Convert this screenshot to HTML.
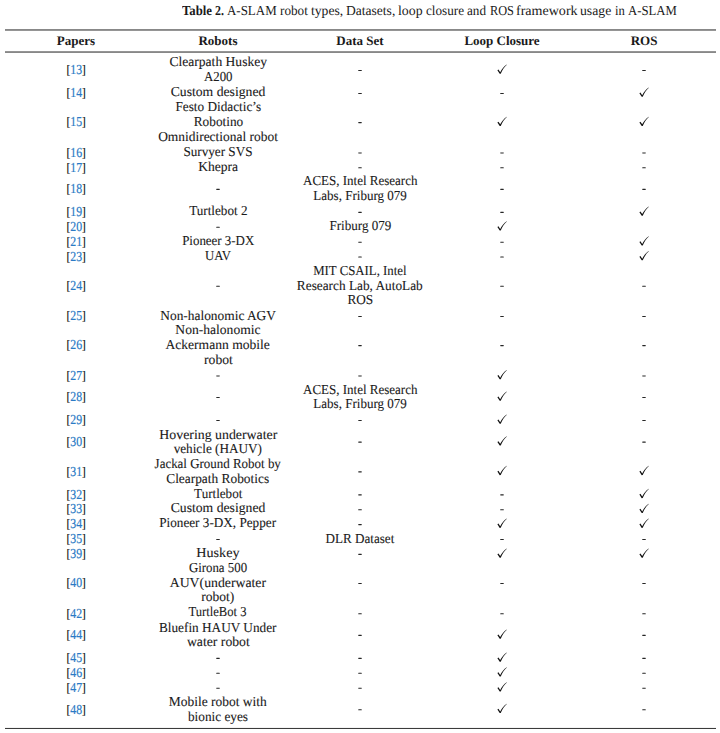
<!DOCTYPE html>
<html><head><meta charset="utf-8"><title>Table 2</title>
<style>
html,body{margin:0;padding:0;background:#fff;}
body{width:720px;height:733px;position:relative;overflow:hidden;font-family:"Liberation Serif",serif;color:#1a1a1a;font-size:13.7px;line-height:15px;text-rendering:geometricPrecision;}
.cw{position:absolute;top:2.5px;white-space:nowrap;font-size:13.7px;transform-origin:0 0;}
.t{position:absolute;width:142px;height:15px;text-align:center;white-space:nowrap;-webkit-text-stroke:0.1px #1a1a1a;}
.l{display:inline-block;}
.h{font-weight:bold;font-size:13.0px;transform:scaleX(1.0);-webkit-text-stroke:0;}
.p{display:inline-block;font-size:13.7px;transform:scaleX(0.865);color:#111;-webkit-text-stroke:0.2px #111;}
.n{color:#2a7ac5;-webkit-text-stroke:0.2px #2a7ac5;position:relative;top:0px;}
.b{font-size:13.0px;position:relative;top:0px;}
svg.ov{position:absolute;left:0;top:0;}
</style></head><body>

<span class="cw" style="left:182.20px;transform:scaleX(0.9313);font-weight:bold">Table</span>
<span class="cw" style="left:215.10px;transform:scaleX(0.8700);font-weight:bold">2.</span>
<span class="cw" style="left:227.05px;transform:scaleX(0.9461)">A-SLAM</span>
<span class="cw" style="left:279.54px;transform:scaleX(0.9643)">robot</span>
<span class="cw" style="left:310.60px;transform:scaleX(0.9968)">types,</span>
<span class="cw" style="left:346.01px;transform:scaleX(0.9896)">Datasets,</span>
<span class="cw" style="left:397.74px;transform:scaleX(1.0109)">loop</span>
<span class="cw" style="left:425.50px;transform:scaleX(0.9615)">closure</span>
<span class="cw" style="left:467.00px;transform:scaleX(0.9625)">and</span>
<span class="cw" style="left:490.35px;transform:scaleX(0.9000)">ROS</span>
<span class="cw" style="left:515.97px;transform:scaleX(1.0254)">framework</span>
<span class="cw" style="left:580.25px;transform:scaleX(1.0017)">usage</span>
<span class="cw" style="left:615.28px;transform:scaleX(0.9222)">in</span>
<span class="cw" style="left:627.82px;transform:scaleX(0.9314)">A-SLAM</span>
<div class="t h" style="left:5.0px;top:33px">Papers</div>
<div class="t h" style="left:147.0px;top:33px">Robots</div>
<div class="t h" style="left:289.0px;top:33px">Data Set</div>
<div class="t h" style="left:431.0px;top:33px">Loop Closure</div>
<div class="t h" style="left:573.0px;top:33px">ROS</div>
<div class="t " style="left:5.0px;top:62px"><span class="p"><span class="b">[</span><span class="n">13</span><span class="b">]</span></span></div>
<div class="t " style="left:147.0px;top:54px"><span class="l" style="transform:scaleX(0.9918)">Clearpath Huskey</span></div>
<div class="t " style="left:147.0px;top:69px"><span class="l" style="transform:scaleX(0.9379)">A200</span></div>
<div class="t " style="left:5.0px;top:85px"><span class="p"><span class="b">[</span><span class="n">14</span><span class="b">]</span></span></div>
<div class="t " style="left:147.0px;top:84px"><span class="l" style="transform:scaleX(1.0)">Custom designed</span></div>
<div class="t " style="left:5.0px;top:114px"><span class="p"><span class="b">[</span><span class="n">15</span><span class="b">]</span></span></div>
<div class="t " style="left:147.0px;top:99px"><span class="l" style="transform:scaleX(0.9678)">Festo Didactic’s</span></div>
<div class="t " style="left:147.0px;top:114px"><span class="l" style="transform:scaleX(0.97)">Robotino</span></div>
<div class="t " style="left:147.0px;top:129px"><span class="l" style="transform:scaleX(0.9811)">Omnidirectional robot</span></div>
<div class="t " style="left:5.0px;top:145px"><span class="p"><span class="b">[</span><span class="n">16</span><span class="b">]</span></span></div>
<div class="t " style="left:147.0px;top:144px"><span class="l" style="transform:scaleX(0.9614)">Survyer SVS</span></div>
<div class="t " style="left:5.0px;top:160px"><span class="p"><span class="b">[</span><span class="n">17</span><span class="b">]</span></span></div>
<div class="t " style="left:147.0px;top:159px"><span class="l" style="transform:scaleX(0.9923)">Khepra</span></div>
<div class="t " style="left:5.0px;top:181px"><span class="p"><span class="b">[</span><span class="n">18</span><span class="b">]</span></span></div>
<div class="t " style="left:289.0px;top:173px"><span class="l" style="transform:scaleX(0.9496)">ACES, Intel Research</span></div>
<div class="t " style="left:289.0px;top:188px"><span class="l" style="transform:scaleX(0.9526)">Labs, Friburg 079</span></div>
<div class="t " style="left:5.0px;top:204px"><span class="p"><span class="b">[</span><span class="n">19</span><span class="b">]</span></span></div>
<div class="t " style="left:147.0px;top:203px"><span class="l" style="transform:scaleX(0.96)">Turtlebot 2</span></div>
<div class="t " style="left:5.0px;top:219px"><span class="p"><span class="b">[</span><span class="n">20</span><span class="b">]</span></span></div>
<div class="t " style="left:289.0px;top:218px"><span class="l" style="transform:scaleX(0.9563)">Friburg 079</span></div>
<div class="t " style="left:5.0px;top:234px"><span class="p"><span class="b">[</span><span class="n">21</span><span class="b">]</span></span></div>
<div class="t " style="left:147.0px;top:233px"><span class="l" style="transform:scaleX(0.944)">Pioneer 3-DX</span></div>
<div class="t " style="left:5.0px;top:249px"><span class="p"><span class="b">[</span><span class="n">23</span><span class="b">]</span></span></div>
<div class="t " style="left:147.0px;top:248px"><span class="l" style="transform:scaleX(0.9296)">UAV</span></div>
<div class="t " style="left:5.0px;top:278px"><span class="p"><span class="b">[</span><span class="n">24</span><span class="b">]</span></span></div>
<div class="t " style="left:289.0px;top:263px"><span class="l" style="transform:scaleX(0.9367)">MIT CSAIL, Intel</span></div>
<div class="t " style="left:289.0px;top:278px"><span class="l" style="transform:scaleX(0.9711)">Research Lab, AutoLab</span></div>
<div class="t " style="left:289.0px;top:292px"><span class="l" style="transform:scaleX(0.968)">ROS</span></div>
<div class="t " style="left:5.0px;top:308px"><span class="p"><span class="b">[</span><span class="n">25</span><span class="b">]</span></span></div>
<div class="t " style="left:147.0px;top:308px"><span class="l" style="transform:scaleX(0.9786)">Non-halonomic AGV</span></div>
<div class="t " style="left:5.0px;top:337px"><span class="p"><span class="b">[</span><span class="n">26</span><span class="b">]</span></span></div>
<div class="t " style="left:147.0px;top:322px"><span class="l" style="transform:scaleX(0.9917)">Non-halonomic</span></div>
<div class="t " style="left:147.0px;top:337px"><span class="l" style="transform:scaleX(0.9913)">Ackermann mobile</span></div>
<div class="t " style="left:147.0px;top:352px"><span class="l" style="transform:scaleX(0.9964)">robot</span></div>
<div class="t " style="left:5.0px;top:368px"><span class="p"><span class="b">[</span><span class="n">27</span><span class="b">]</span></span></div>
<div class="t " style="left:5.0px;top:389px"><span class="p"><span class="b">[</span><span class="n">28</span><span class="b">]</span></span></div>
<div class="t " style="left:289.0px;top:382px"><span class="l" style="transform:scaleX(0.9496)">ACES, Intel Research</span></div>
<div class="t " style="left:289.0px;top:396px"><span class="l" style="transform:scaleX(0.9526)">Labs, Friburg 079</span></div>
<div class="t " style="left:5.0px;top:412px"><span class="p"><span class="b">[</span><span class="n">29</span><span class="b">]</span></span></div>
<div class="t " style="left:5.0px;top:434px"><span class="p"><span class="b">[</span><span class="n">30</span><span class="b">]</span></span></div>
<div class="t " style="left:147.0px;top:427px"><span class="l" style="transform:scaleX(1.0121)">Hovering underwater</span></div>
<div class="t " style="left:147.0px;top:441px"><span class="l" style="transform:scaleX(0.9644)">vehicle (HAUV)</span></div>
<div class="t " style="left:5.0px;top:464px"><span class="p"><span class="b">[</span><span class="n">31</span><span class="b">]</span></span></div>
<div class="t " style="left:147.0px;top:456px"><span class="l" style="transform:scaleX(0.9459)">Jackal Ground Robot by</span></div>
<div class="t " style="left:147.0px;top:471px"><span class="l" style="transform:scaleX(0.9771)">Clearpath Robotics</span></div>
<div class="t " style="left:5.0px;top:487px"><span class="p"><span class="b">[</span><span class="n">32</span><span class="b">]</span></span></div>
<div class="t " style="left:147.0px;top:486px"><span class="l" style="transform:scaleX(0.956)">Turtlebot</span></div>
<div class="t " style="left:5.0px;top:501px"><span class="p"><span class="b">[</span><span class="n">33</span><span class="b">]</span></span></div>
<div class="t " style="left:147.0px;top:500px"><span class="l" style="transform:scaleX(1.0)">Custom designed</span></div>
<div class="t " style="left:5.0px;top:516px"><span class="p"><span class="b">[</span><span class="n">34</span><span class="b">]</span></span></div>
<div class="t " style="left:147.0px;top:515px"><span class="l" style="transform:scaleX(0.9633)">Pioneer 3-DX, Pepper</span></div>
<div class="t " style="left:5.0px;top:531px"><span class="p"><span class="b">[</span><span class="n">35</span><span class="b">]</span></span></div>
<div class="t " style="left:289.0px;top:531px"><span class="l" style="transform:scaleX(0.9577)">DLR Dataset</span></div>
<div class="t " style="left:5.0px;top:546px"><span class="p"><span class="b">[</span><span class="n">39</span><span class="b">]</span></span></div>
<div class="t " style="left:147.0px;top:545px"><span class="l" style="transform:scaleX(1.0325)">Huskey</span></div>
<div class="t " style="left:5.0px;top:575px"><span class="p"><span class="b">[</span><span class="n">40</span><span class="b">]</span></span></div>
<div class="t " style="left:147.0px;top:560px"><span class="l" style="transform:scaleX(0.9387)">Girona 500</span></div>
<div class="t " style="left:147.0px;top:575px"><span class="l" style="transform:scaleX(1.0053)">AUV(underwater</span></div>
<div class="t " style="left:147.0px;top:589px"><span class="l" style="transform:scaleX(0.9875)">robot)</span></div>
<div class="t " style="left:5.0px;top:606px"><span class="p"><span class="b">[</span><span class="n">42</span><span class="b">]</span></span></div>
<div class="t " style="left:147.0px;top:604px"><span class="l" style="transform:scaleX(0.9206)">TurtleBot 3</span></div>
<div class="t " style="left:5.0px;top:627px"><span class="p"><span class="b">[</span><span class="n">44</span><span class="b">]</span></span></div>
<div class="t " style="left:147.0px;top:620px"><span class="l" style="transform:scaleX(0.9675)">Bluefin HAUV Under</span></div>
<div class="t " style="left:147.0px;top:634px"><span class="l" style="transform:scaleX(1.0016)">water robot</span></div>
<div class="t " style="left:5.0px;top:650px"><span class="p"><span class="b">[</span><span class="n">45</span><span class="b">]</span></span></div>
<div class="t " style="left:5.0px;top:665px"><span class="p"><span class="b">[</span><span class="n">46</span><span class="b">]</span></span></div>
<div class="t " style="left:5.0px;top:680px"><span class="p"><span class="b">[</span><span class="n">47</span><span class="b">]</span></span></div>
<div class="t " style="left:5.0px;top:702px"><span class="p"><span class="b">[</span><span class="n">48</span><span class="b">]</span></span></div>
<div class="t " style="left:147.0px;top:694px"><span class="l" style="transform:scaleX(0.9827)">Mobile robot with</span></div>
<div class="t " style="left:147.0px;top:709px"><span class="l" style="transform:scaleX(0.9689)">bionic eyes</span></div>
<svg class="ov" width="720" height="733" viewBox="0 0 720 733"><rect x="5" y="29.1" width="711" height="1.7" fill="#7c7c7c"/><rect x="5" y="51.2" width="711" height="1.7" fill="#7c7c7c"/><rect x="5" y="727.95" width="711" height="0.9" fill="#1a1a1a"/><rect x="358.20" y="69.95" width="3.6" height="1.1" rx="0.4" fill="#262626"/><path transform="translate(500.25 73.75)" d="M-2.85-3.5L-1.8-4.25L-0.05-1.55C1.45-4.5 3.65-7.4 6.5-9.25L6.65-9C4.2-7 2.1-3.9 0.5 0L-0.55 0.05Z" fill="#111"/><rect x="642.20" y="69.95" width="3.6" height="1.1" rx="0.4" fill="#262626"/><rect x="358.20" y="92.95" width="3.6" height="1.1" rx="0.4" fill="#262626"/><rect x="500.20" y="92.95" width="3.6" height="1.1" rx="0.4" fill="#262626"/><path transform="translate(642.25 96.75)" d="M-2.85-3.5L-1.8-4.25L-0.05-1.55C1.45-4.5 3.65-7.4 6.5-9.25L6.65-9C4.2-7 2.1-3.9 0.5 0L-0.55 0.05Z" fill="#111"/><rect x="358.20" y="122.12" width="3.6" height="1.1" rx="0.4" fill="#262626"/><path transform="translate(500.25 125.92)" d="M-2.85-3.5L-1.8-4.25L-0.05-1.55C1.45-4.5 3.65-7.4 6.5-9.25L6.65-9C4.2-7 2.1-3.9 0.5 0L-0.55 0.05Z" fill="#111"/><path transform="translate(642.25 125.92)" d="M-2.85-3.5L-1.8-4.25L-0.05-1.55C1.45-4.5 3.65-7.4 6.5-9.25L6.65-9C4.2-7 2.1-3.9 0.5 0L-0.55 0.05Z" fill="#111"/><rect x="358.20" y="152.39" width="3.6" height="1.1" rx="0.4" fill="#262626"/><rect x="500.20" y="152.39" width="3.6" height="1.1" rx="0.4" fill="#262626"/><rect x="642.20" y="152.39" width="3.6" height="1.1" rx="0.4" fill="#262626"/><rect x="358.20" y="167.27" width="3.6" height="1.1" rx="0.4" fill="#262626"/><rect x="500.20" y="167.27" width="3.6" height="1.1" rx="0.4" fill="#262626"/><rect x="642.20" y="167.27" width="3.6" height="1.1" rx="0.4" fill="#262626"/><rect x="216.20" y="188.87" width="3.6" height="1.1" rx="0.4" fill="#262626"/><rect x="500.20" y="188.87" width="3.6" height="1.1" rx="0.4" fill="#262626"/><rect x="642.20" y="188.87" width="3.6" height="1.1" rx="0.4" fill="#262626"/><rect x="358.20" y="211.87" width="3.6" height="1.1" rx="0.4" fill="#262626"/><rect x="500.20" y="211.87" width="3.6" height="1.1" rx="0.4" fill="#262626"/><path transform="translate(642.25 215.67)" d="M-2.85-3.5L-1.8-4.25L-0.05-1.55C1.45-4.5 3.65-7.4 6.5-9.25L6.65-9C4.2-7 2.1-3.9 0.5 0L-0.55 0.05Z" fill="#111"/><rect x="216.20" y="226.75" width="3.6" height="1.1" rx="0.4" fill="#262626"/><path transform="translate(500.25 230.55)" d="M-2.85-3.5L-1.8-4.25L-0.05-1.55C1.45-4.5 3.65-7.4 6.5-9.25L6.65-9C4.2-7 2.1-3.9 0.5 0L-0.55 0.05Z" fill="#111"/><rect x="358.20" y="241.63" width="3.6" height="1.1" rx="0.4" fill="#262626"/><rect x="500.20" y="241.63" width="3.6" height="1.1" rx="0.4" fill="#262626"/><path transform="translate(642.25 245.43)" d="M-2.85-3.5L-1.8-4.25L-0.05-1.55C1.45-4.5 3.65-7.4 6.5-9.25L6.65-9C4.2-7 2.1-3.9 0.5 0L-0.55 0.05Z" fill="#111"/><rect x="358.20" y="256.51" width="3.6" height="1.1" rx="0.4" fill="#262626"/><rect x="500.20" y="256.51" width="3.6" height="1.1" rx="0.4" fill="#262626"/><path transform="translate(642.25 260.31)" d="M-2.85-3.5L-1.8-4.25L-0.05-1.55C1.45-4.5 3.65-7.4 6.5-9.25L6.65-9C4.2-7 2.1-3.9 0.5 0L-0.55 0.05Z" fill="#111"/><rect x="216.20" y="285.68" width="3.6" height="1.1" rx="0.4" fill="#262626"/><rect x="500.20" y="285.68" width="3.6" height="1.1" rx="0.4" fill="#262626"/><rect x="642.20" y="285.68" width="3.6" height="1.1" rx="0.4" fill="#262626"/><rect x="358.20" y="315.95" width="3.6" height="1.1" rx="0.4" fill="#262626"/><rect x="500.20" y="315.95" width="3.6" height="1.1" rx="0.4" fill="#262626"/><rect x="642.20" y="315.95" width="3.6" height="1.1" rx="0.4" fill="#262626"/><rect x="358.20" y="345.12" width="3.6" height="1.1" rx="0.4" fill="#262626"/><rect x="500.20" y="345.12" width="3.6" height="1.1" rx="0.4" fill="#262626"/><rect x="642.20" y="345.12" width="3.6" height="1.1" rx="0.4" fill="#262626"/><rect x="216.20" y="375.39" width="3.6" height="1.1" rx="0.4" fill="#262626"/><rect x="358.20" y="375.39" width="3.6" height="1.1" rx="0.4" fill="#262626"/><path transform="translate(500.25 379.19)" d="M-2.85-3.5L-1.8-4.25L-0.05-1.55C1.45-4.5 3.65-7.4 6.5-9.25L6.65-9C4.2-7 2.1-3.9 0.5 0L-0.55 0.05Z" fill="#111"/><rect x="642.20" y="375.39" width="3.6" height="1.1" rx="0.4" fill="#262626"/><rect x="216.20" y="396.99" width="3.6" height="1.1" rx="0.4" fill="#262626"/><path transform="translate(500.25 400.79)" d="M-2.85-3.5L-1.8-4.25L-0.05-1.55C1.45-4.5 3.65-7.4 6.5-9.25L6.65-9C4.2-7 2.1-3.9 0.5 0L-0.55 0.05Z" fill="#111"/><rect x="642.20" y="396.99" width="3.6" height="1.1" rx="0.4" fill="#262626"/><rect x="216.20" y="419.99" width="3.6" height="1.1" rx="0.4" fill="#262626"/><rect x="358.20" y="419.99" width="3.6" height="1.1" rx="0.4" fill="#262626"/><path transform="translate(500.25 423.79)" d="M-2.85-3.5L-1.8-4.25L-0.05-1.55C1.45-4.5 3.65-7.4 6.5-9.25L6.65-9C4.2-7 2.1-3.9 0.5 0L-0.55 0.05Z" fill="#111"/><rect x="642.20" y="419.99" width="3.6" height="1.1" rx="0.4" fill="#262626"/><rect x="358.20" y="441.59" width="3.6" height="1.1" rx="0.4" fill="#262626"/><path transform="translate(500.25 445.39)" d="M-2.85-3.5L-1.8-4.25L-0.05-1.55C1.45-4.5 3.65-7.4 6.5-9.25L6.65-9C4.2-7 2.1-3.9 0.5 0L-0.55 0.05Z" fill="#111"/><rect x="642.20" y="441.59" width="3.6" height="1.1" rx="0.4" fill="#262626"/><rect x="358.20" y="471.31" width="3.6" height="1.1" rx="0.4" fill="#262626"/><path transform="translate(500.25 475.11)" d="M-2.85-3.5L-1.8-4.25L-0.05-1.55C1.45-4.5 3.65-7.4 6.5-9.25L6.65-9C4.2-7 2.1-3.9 0.5 0L-0.55 0.05Z" fill="#111"/><path transform="translate(642.25 475.11)" d="M-2.85-3.5L-1.8-4.25L-0.05-1.55C1.45-4.5 3.65-7.4 6.5-9.25L6.65-9C4.2-7 2.1-3.9 0.5 0L-0.55 0.05Z" fill="#111"/><rect x="358.20" y="494.31" width="3.6" height="1.1" rx="0.4" fill="#262626"/><rect x="500.20" y="494.31" width="3.6" height="1.1" rx="0.4" fill="#262626"/><path transform="translate(642.25 498.11)" d="M-2.85-3.5L-1.8-4.25L-0.05-1.55C1.45-4.5 3.65-7.4 6.5-9.25L6.65-9C4.2-7 2.1-3.9 0.5 0L-0.55 0.05Z" fill="#111"/><rect x="358.20" y="509.19" width="3.6" height="1.1" rx="0.4" fill="#262626"/><rect x="500.20" y="509.19" width="3.6" height="1.1" rx="0.4" fill="#262626"/><path transform="translate(642.25 512.99)" d="M-2.85-3.5L-1.8-4.25L-0.05-1.55C1.45-4.5 3.65-7.4 6.5-9.25L6.65-9C4.2-7 2.1-3.9 0.5 0L-0.55 0.05Z" fill="#111"/><rect x="358.20" y="524.07" width="3.6" height="1.1" rx="0.4" fill="#262626"/><path transform="translate(500.25 527.87)" d="M-2.85-3.5L-1.8-4.25L-0.05-1.55C1.45-4.5 3.65-7.4 6.5-9.25L6.65-9C4.2-7 2.1-3.9 0.5 0L-0.55 0.05Z" fill="#111"/><path transform="translate(642.25 527.87)" d="M-2.85-3.5L-1.8-4.25L-0.05-1.55C1.45-4.5 3.65-7.4 6.5-9.25L6.65-9C4.2-7 2.1-3.9 0.5 0L-0.55 0.05Z" fill="#111"/><rect x="216.20" y="538.95" width="3.6" height="1.1" rx="0.4" fill="#262626"/><rect x="500.20" y="538.95" width="3.6" height="1.1" rx="0.4" fill="#262626"/><rect x="642.20" y="538.95" width="3.6" height="1.1" rx="0.4" fill="#262626"/><rect x="358.20" y="553.83" width="3.6" height="1.1" rx="0.4" fill="#262626"/><path transform="translate(500.25 557.63)" d="M-2.85-3.5L-1.8-4.25L-0.05-1.55C1.45-4.5 3.65-7.4 6.5-9.25L6.65-9C4.2-7 2.1-3.9 0.5 0L-0.55 0.05Z" fill="#111"/><path transform="translate(642.25 557.63)" d="M-2.85-3.5L-1.8-4.25L-0.05-1.55C1.45-4.5 3.65-7.4 6.5-9.25L6.65-9C4.2-7 2.1-3.9 0.5 0L-0.55 0.05Z" fill="#111"/><rect x="358.20" y="583.00" width="3.6" height="1.1" rx="0.4" fill="#262626"/><rect x="500.20" y="583.00" width="3.6" height="1.1" rx="0.4" fill="#262626"/><rect x="642.20" y="583.00" width="3.6" height="1.1" rx="0.4" fill="#262626"/><rect x="358.20" y="613.27" width="3.6" height="1.1" rx="0.4" fill="#262626"/><rect x="500.20" y="613.27" width="3.6" height="1.1" rx="0.4" fill="#262626"/><rect x="642.20" y="613.27" width="3.6" height="1.1" rx="0.4" fill="#262626"/><rect x="358.20" y="634.87" width="3.6" height="1.1" rx="0.4" fill="#262626"/><path transform="translate(500.25 638.67)" d="M-2.85-3.5L-1.8-4.25L-0.05-1.55C1.45-4.5 3.65-7.4 6.5-9.25L6.65-9C4.2-7 2.1-3.9 0.5 0L-0.55 0.05Z" fill="#111"/><rect x="642.20" y="634.87" width="3.6" height="1.1" rx="0.4" fill="#262626"/><rect x="216.20" y="657.87" width="3.6" height="1.1" rx="0.4" fill="#262626"/><rect x="358.20" y="657.87" width="3.6" height="1.1" rx="0.4" fill="#262626"/><path transform="translate(500.25 661.67)" d="M-2.85-3.5L-1.8-4.25L-0.05-1.55C1.45-4.5 3.65-7.4 6.5-9.25L6.65-9C4.2-7 2.1-3.9 0.5 0L-0.55 0.05Z" fill="#111"/><rect x="642.20" y="657.87" width="3.6" height="1.1" rx="0.4" fill="#262626"/><rect x="216.20" y="672.75" width="3.6" height="1.1" rx="0.4" fill="#262626"/><rect x="358.20" y="672.75" width="3.6" height="1.1" rx="0.4" fill="#262626"/><path transform="translate(500.25 676.55)" d="M-2.85-3.5L-1.8-4.25L-0.05-1.55C1.45-4.5 3.65-7.4 6.5-9.25L6.65-9C4.2-7 2.1-3.9 0.5 0L-0.55 0.05Z" fill="#111"/><rect x="642.20" y="672.75" width="3.6" height="1.1" rx="0.4" fill="#262626"/><rect x="216.20" y="687.63" width="3.6" height="1.1" rx="0.4" fill="#262626"/><rect x="358.20" y="687.63" width="3.6" height="1.1" rx="0.4" fill="#262626"/><path transform="translate(500.25 691.43)" d="M-2.85-3.5L-1.8-4.25L-0.05-1.55C1.45-4.5 3.65-7.4 6.5-9.25L6.65-9C4.2-7 2.1-3.9 0.5 0L-0.55 0.05Z" fill="#111"/><rect x="642.20" y="687.63" width="3.6" height="1.1" rx="0.4" fill="#262626"/><rect x="358.20" y="709.23" width="3.6" height="1.1" rx="0.4" fill="#262626"/><path transform="translate(500.25 713.03)" d="M-2.85-3.5L-1.8-4.25L-0.05-1.55C1.45-4.5 3.65-7.4 6.5-9.25L6.65-9C4.2-7 2.1-3.9 0.5 0L-0.55 0.05Z" fill="#111"/><rect x="642.20" y="709.23" width="3.6" height="1.1" rx="0.4" fill="#262626"/></svg>
</body></html>
